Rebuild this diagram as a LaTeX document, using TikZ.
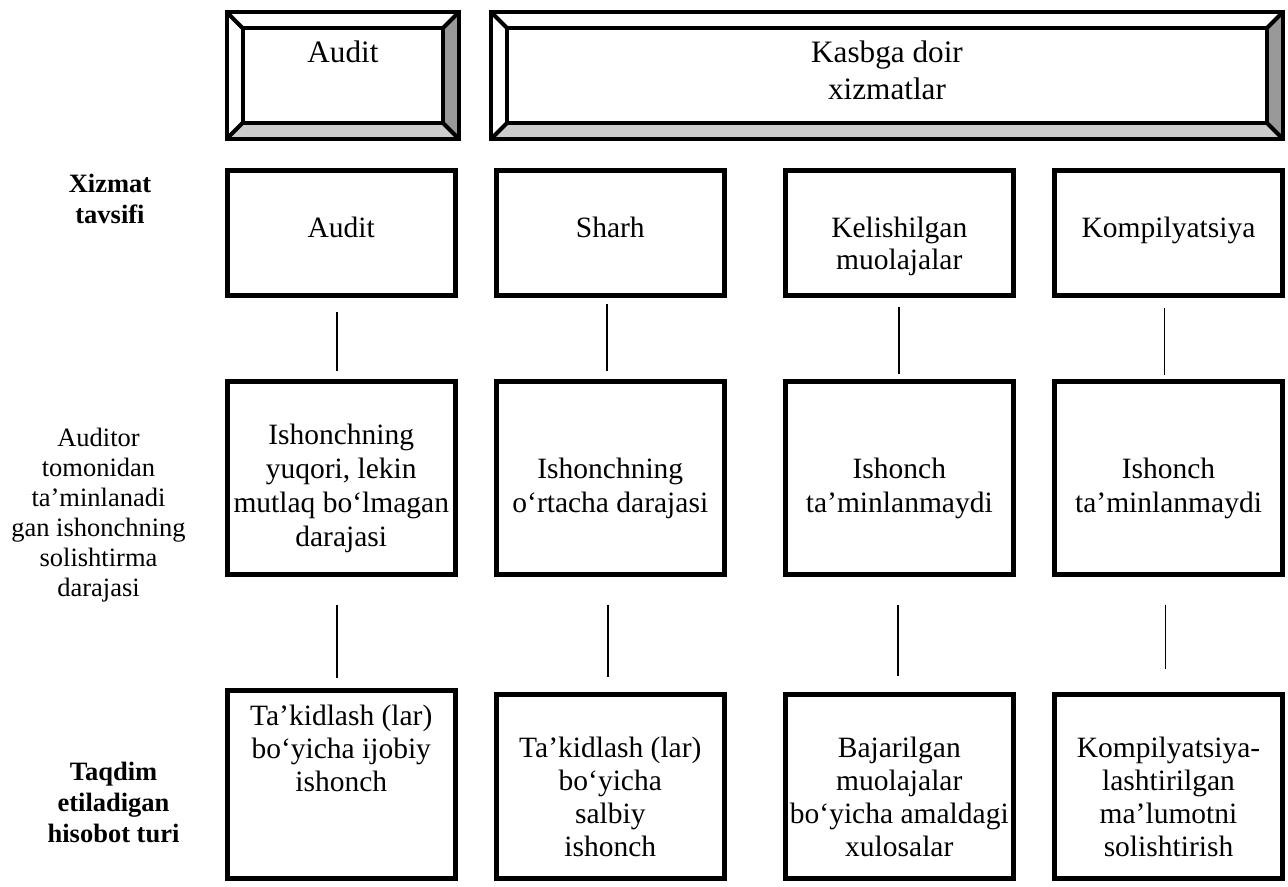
\documentclass[tikz,border=0pt]{standalone}
\usepackage{fontspec}
\setmainfont{Liberation Serif}
\usetikzlibrary{calc}

% bevelled frame around a named node: light bottom, dark right side
\newcommand\drawbevel[1]{%
  \coordinate (#1-ia) at ([shift={(16,16)}]#1.north west);
  \coordinate (#1-ib) at ([shift={(-16,16)}]#1.north east);
  \coordinate (#1-ic) at ([shift={(-16,-16)}]#1.south east);
  \coordinate (#1-id) at ([shift={(16,-16)}]#1.south west);
  \fill[black!20] (#1.south west) -- (#1.south east) -- (#1-ic) -- (#1-id) -- cycle;
  \fill[black!40] (#1.north east) -- (#1.south east) -- (#1-ic) -- (#1-ib) -- cycle;
  \draw[bevelline] (#1.north west) rectangle (#1.south east);
  \draw[bevelline] (#1-ia) rectangle (#1-ic);
  \draw[bevelline] (#1.north west) -- (#1-ia) (#1.north east) -- (#1-ib)
                   (#1.south east) -- (#1-ic) (#1.south west) -- (#1-id);
}

\begin{document}
\begin{tikzpicture}[x=0.5pt,y=-0.5pt,
  box/.style={draw, line width=2.5pt, minimum width=114pt, inner sep=0pt},
  frame/.style={minimum height=63pt, inner sep=0pt},
  txt/.style={align=center, inner sep=0pt, anchor=north,
              font=\fontsize{14.75}{16.75}\selectfont},
  headtxt/.style={txt, font=\fontsize{15.6}{18.8}\selectfont},
  side/.style={align=center, inner sep=0pt, anchor=north,
               font=\fontsize{13.25}{15}\selectfont},
  sidebold/.style={side, font=\fontsize{13.25}{15.4}\selectfont\bfseries},
  conn/.style={line width=0.85pt},
  bevelline/.style={line width=2pt, line join=miter},
]
\useasboundingbox (0,0) rectangle (1288,887);

% ---- header frames
\node[frame, minimum width=115.75pt] (audTop) at (342.75,75.5) {};
\node[frame, minimum width=395.5pt]  (kasTop) at (887,75.5) {};
\drawbevel{audTop}
\drawbevel{kasTop}
\node[headtxt] (audTopT) at (343,40) {Audit};
\node[headtxt] (kasTopT) at (887,40) {Kasbga doir\\xizmatlar};

% ---- row labels
\node[sidebold] (lblXizmat) at (110,174) {Xizmat\\tavsifi};
\node[side] (lblAuditor) at (98.5,427.5)
  {Auditor\\tomonidan\\ta’minlanadi\\gan ishonchning\\solishtirma\\darajasi};
\node[sidebold] (lblTaqdim) at (113.5,762) {Taqdim\\etiladigan\\hisobot turi};

% ---- service type
\node[box, minimum height=62.5pt] (a2) at (341.25,233.5) {};
\node[box, minimum height=62.5pt] (b2) at (610.3,233.5) {};
\node[box, minimum height=62.5pt] (c2) at (899.3,233.5) {};
\node[box, minimum height=62.5pt] (d2) at (1168.5,233.5) {};
\node[txt, font=\fontsize{14.75}{16}\selectfont] (a2t) at (341.25,217) {Audit};
\node[txt, font=\fontsize{14.75}{16}\selectfont] (b2t) at (610.3,217) {Sharh};
\node[txt, font=\fontsize{14.75}{16}\selectfont] (c2t) at (899.3,217) {Kelishilgan\\muolajalar};
\node[txt, font=\fontsize{14.75}{16}\selectfont] (d2t) at (1168.5,217) {Kompilyatsiya};

% ---- assurance level
\node[box, minimum height=96.5pt] (a3) at (341.25,477.5) {};
\node[box, minimum height=96.5pt] (b3) at (610.3,477.5) {};
\node[box, minimum height=96.5pt] (c3) at (899.3,477.5) {};
\node[box, minimum height=96.5pt] (d3) at (1168.5,477.5) {};
\node[txt, font=\fontsize{14.75}{17}\selectfont] (a3t) at (341.25,424)
  {Ishonchning\\yuqori, lekin\\mutlaq bo‘lmagan\\darajasi};
\node[txt, font=\fontsize{14.75}{17}\selectfont] (b3t) at (610.3,458)
  {Ishonchning\\o‘rtacha darajasi};
\node[txt, font=\fontsize{14.75}{17}\selectfont] (c3t) at (899.3,458)
  {Ishonch\\ta’minlanmaydi};
\node[txt, font=\fontsize{14.75}{17}\selectfont] (d3t) at (1168.5,458)
  {Ishonch\\ta’minlanmaydi};

% ---- report type
\node[box, minimum height=94pt] (a4) at (341.25,784) {};
\node[box, minimum height=92pt] (b4) at (610.3,786) {};
\node[box, minimum height=92pt] (c4) at (899.3,786) {};
\node[box, minimum height=92pt] (d4) at (1168.5,786) {};
\node[txt, font=\fontsize{14.75}{16.5}\selectfont] (a4t) at (341.25,705)
  {Ta’kidlash (lar)\\bo‘yicha ijobiy\\ishonch};
\node[txt, font=\fontsize{14.75}{16.5}\selectfont] (b4t) at (610.3,737)
  {Ta’kidlash (lar)\\bo‘yicha\\salbiy\\ishonch};
\node[txt, font=\fontsize{14.75}{16.5}\selectfont] (c4t) at (899.3,737)
  {Bajarilgan\\muolajalar\\bo‘yicha amaldagi\\xulosalar};
\node[txt, font=\fontsize{14.75}{16.5}\selectfont] (d4t) at (1168.5,737)
  {Kompilyatsiya-\\lashtirilgan\\ma’lumotni\\solishtirish};

% ---- connectors
\draw[conn, shorten <=7pt,   shorten >=4pt]   ([xshift=-2pt]a2.south)   -- ([xshift=-2pt]a3.north);
\draw[conn, shorten <=3pt,   shorten >=4pt]   ([xshift=-1.5pt]b2.south) -- ([xshift=-1.5pt]b3.north);
\draw[conn, shorten <=4.5pt, shorten >=2.5pt] ([xshift=0pt]c2.south)    -- ([xshift=0pt]c3.north);
\draw[conn, shorten <=5pt,   shorten >=2pt]   ([xshift=-2pt]d2.south)   -- ([xshift=-2pt]d3.north);

\draw[conn, shorten <=14pt, shorten >=5pt]    ([xshift=-2pt]a3.south)   -- ([xshift=-2pt]a4.north);
\draw[conn, shorten <=14pt, shorten >=7.5pt]  ([xshift=-1pt]b3.south)   -- ([xshift=-1pt]b4.north);
\draw[conn, shorten <=14pt, shorten >=8pt]    ([xshift=-0.5pt]c3.south) -- ([xshift=-0.5pt]c4.north);
\draw[conn, shorten <=14pt, shorten >=11.5pt] ([xshift=-1.5pt]d3.south) -- ([xshift=-1.5pt]d4.north);
\end{tikzpicture}
\end{document}
